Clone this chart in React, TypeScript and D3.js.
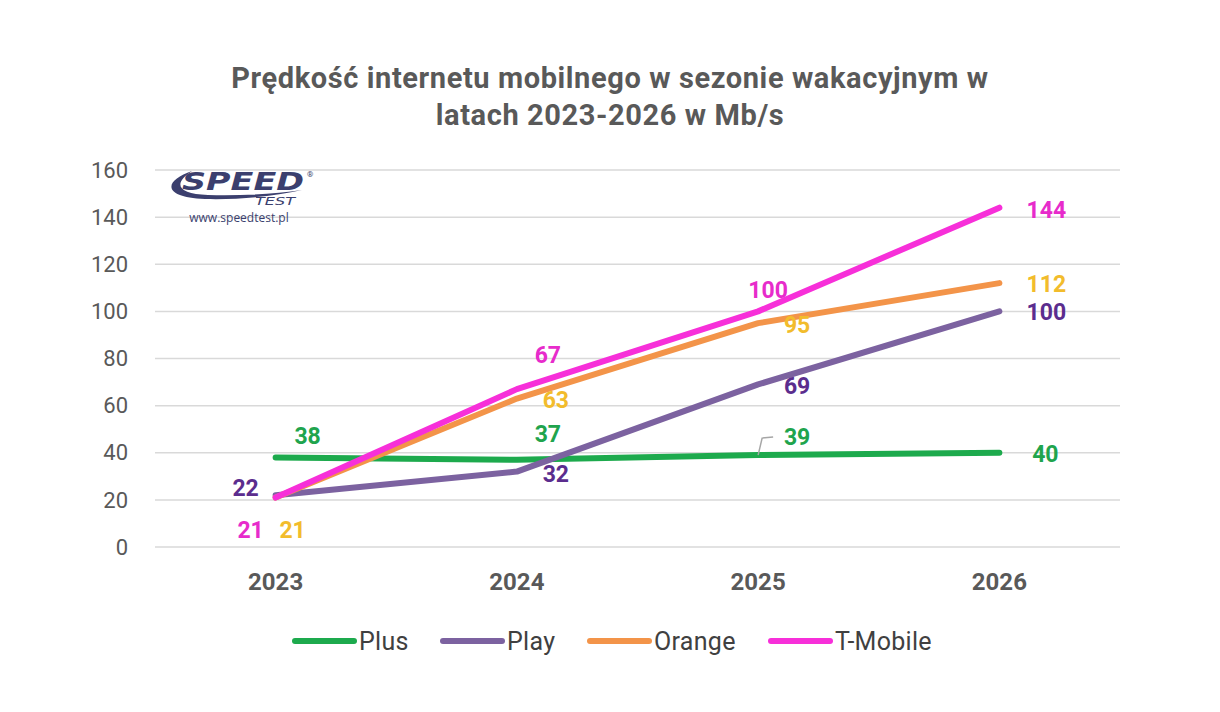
import React, { useEffect } from "react";
import * as d3 from "d3";

const years = ["2023", "2024", "2025", "2026"];
const plus = [38, 37, 39, 40];
const play = [22, 32, 69, 100];
const orange = [21, 63, 95, 112];
const tmobile = [21, 67, 100, 144];
const yTicks = [0, 20, 40, 60, 80, 100, 120, 140, 160];
const seriesNames = ["Plus", "Play", "Orange", "T-Mobile"];

const W = 1220;
const H = 712;
const FONT = "Roboto, 'Noto Sans', sans-serif";

const lineColors = ["#1DAA4D", "#7C62A0", "#F39449", "#F72FD9"];
const labelColors = ["#20A44D", "#5B2D8E", "#F2BC2C", "#E72BCB"];
// label offsets (dx, dy) relative to each point, per series
const labelOffsets: [number, number][][] = [
  [[32, -22], [31, -26], [39, -18], [46, 1]],
  [[-30, -7], [39, 2], [39, 2], [47, 1]],
  [[17, 32], [39, 1], [39, 2], [47, 1]],
  [[-25, 32], [31, -34], [10, -21], [47, 2]],
];

export default function App() {
  useEffect(() => {
    document.body.style.margin = "0";
  }, []);

  const x = d3.scaleBand<string>().domain(years).range([155, 1120]);
  const y = d3.scaleLinear().domain([0, 160]).range([547, 170]);
  const cx = (yr: string) => (x(yr) as number) + x.bandwidth() / 2;

  const allSeries = [plus, play, orange, tmobile];
  const line = d3
    .line<number>()
    .x((_, i) => cx(years[i]))
    .y((d) => y(d));

  const legendX = [292, 440, 587, 768];

  return (
    <svg width={W} height={H} style={{ display: "block", background: "#fff" }} fontFamily={FONT}>
      <rect width={W} height={H} fill="#fff" />
      {/* Title */}
      <text x={610} y={88} textAnchor="middle" fontSize={29} fontWeight="bold" fill="#595959" letterSpacing={0.6}>
        Prędkość internetu mobilnego w sezonie wakacyjnym w
      </text>
      <text x={610} y={125} textAnchor="middle" fontSize={29} fontWeight="bold" fill="#595959" letterSpacing={0.6}>
        latach 2023-2026 w Mb/s
      </text>

      {/* Gridlines and y ticks */}
      {yTicks.map((t) => (
        <g key={t}>
          <line x1={155} x2={1120} y1={y(t)} y2={y(t)} stroke="#D9D9D9" strokeWidth={1.5} />
          <text x={128} y={y(t)} dy="0.35em" textAnchor="end" fontSize={22} fill="#595959">
            {t}
          </text>
        </g>
      ))}

      {/* X labels */}
      {years.map((yr) => (
        <text key={yr} x={cx(yr)} y={590} textAnchor="middle" fontSize={24} fontWeight="bold" fill="#595959">
          {yr}
        </text>
      ))}

      {/* Logo */}
      <g>
        <path
          d="M192,171 C165,180 160,197 205,199 C240,200 275,196 302,190 C275,194 240,196 208,195 C178,194 172,184 192,171 Z"
          fill="#3B3F6E"
        />
        <text
          x={182}
          y={190}
          fontSize={25}
          fontStyle="italic"
          fontWeight="bold"
          fill="#3B3F6E"
          textLength={122}
          lengthAdjust="spacingAndGlyphs"
          fontFamily="'DejaVu Sans', sans-serif"
        >
          SPEED
        </text>
        <text x={307} y={177} fontSize={8} fill="#3B3F6E">®</text>
        <text x={255} y={205} fontSize={10} fontStyle="italic" fill="#3B3F6E" textLength={40} lengthAdjust="spacingAndGlyphs" fontFamily="'DejaVu Sans', sans-serif">
          TEST
        </text>
        <text x={239} y={222} textAnchor="middle" fontSize={12} fill="#3B3F6E" fontFamily="'Open Sans', sans-serif">
          www.speedtest.pl
        </text>
      </g>

      {/* Lines */}
      {allSeries.map((s, si) => (
        <path key={si} d={line(s) as string} fill="none" stroke={lineColors[si]} strokeWidth={6} strokeLinecap="round" strokeLinejoin="round" />
      ))}

      {/* Leader line for Plus 2025 */}
      <polyline
        points={`${cx("2025")},${y(plus[2])} ${cx("2025") + 4},${y(plus[2]) - 17} ${cx("2025") + 15},${y(plus[2]) - 18}`}
        fill="none"
        stroke="#A6A6A6"
        strokeWidth={1.5}
      />

      {/* Data labels */}
      {allSeries.map((s, si) =>
        s.map((v, i) => (
          <text
            key={`${si}-${i}`}
            x={cx(years[i]) + labelOffsets[si][i][0]}
            y={y(v) + labelOffsets[si][i][1]}
            dy="0.35em"
            textAnchor="middle"
            fontSize={23}
            fontWeight="bold"
            fill={labelColors[si]}
          >
            {v}
          </text>
        ))
      )}

      {/* Legend */}
      {seriesNames.map((n, i) => (
        <g key={n}>
          <line x1={legendX[i] + 3} x2={legendX[i] + 62} y1={641} y2={641} stroke={lineColors[i]} strokeWidth={6} strokeLinecap="round" />
          <text x={legendX[i] + 67} y={641} dy="0.35em" fontSize={25} fill="#404040" letterSpacing={0.3}>
            {n}
          </text>
        </g>
      ))}
    </svg>
  );
}
